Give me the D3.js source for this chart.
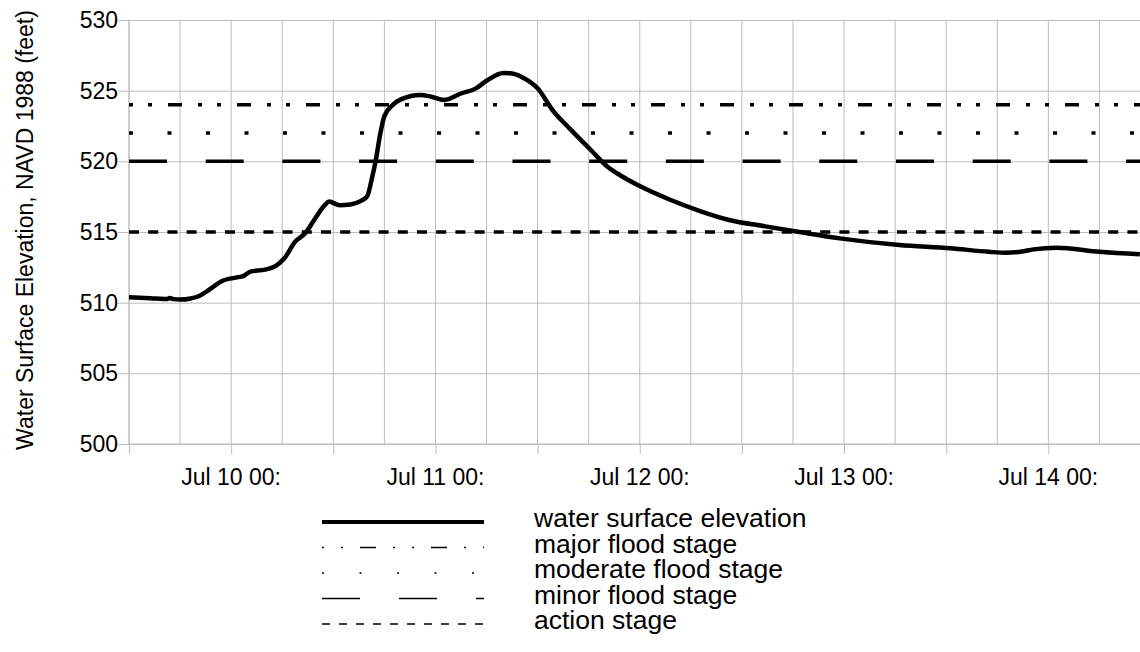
<!DOCTYPE html>
<html>
<head>
<meta charset="utf-8">
<script src="https://cdn.jsdelivr.net/npm/d3@7"></script>
<style>
  body { margin: 0; background: #ffffff; }
  svg { display: block; font-family: "Liberation Sans", Arial, sans-serif; }
</style>
</head>
<body>
<svg id="chart" width="1140" height="652"></svg>
<script>
// water surface elevation readings (ft, NAVD 1988)
const times = [
  '07-09 12:00', '07-09 14:30', '07-09 16:30', '07-09 16:45', '07-09 17:15', '07-09 18:00',
  '07-09 19:15', '07-09 20:15', '07-09 21:30', '07-09 23:00', '07-10 01:00', '07-10 01:30',
  '07-10 02:15', '07-10 04:00', '07-10 05:15', '07-10 06:15', '07-10 07:30', '07-10 08:45',
  '07-10 09:45', '07-10 11:00', '07-10 11:30', '07-10 12:45', '07-10 14:00', '07-10 15:15',
  '07-10 16:00', '07-10 16:30', '07-10 17:00', '07-10 17:30', '07-10 18:00', '07-10 19:00',
  '07-10 20:00', '07-10 22:15', '07-10 23:30', '07-11 01:00', '07-11 03:00', '07-11 04:45',
  '07-11 06:00', '07-11 08:00', '07-11 09:00', '07-11 10:45', '07-11 12:00', '07-11 13:45',
  '07-11 15:45', '07-11 18:15', '07-11 20:15', '07-11 21:45', '07-12 00:00', '07-12 03:30',
  '07-12 07:00', '07-12 10:30', '07-12 14:45', '07-12 18:45', '07-12 23:30', '07-13 06:30',
  '07-13 12:30', '07-13 17:00', '07-13 19:00', '07-13 20:45', '07-13 22:15', '07-14 01:00',
  '07-14 06:00', '07-14 10:45'
];
const elevations = [
  510.38, 510.32, 510.26, 510.33, 510.25, 510.22,
  510.30, 510.47, 510.95, 511.55, 511.82, 511.90,
  512.20, 512.34, 512.60, 513.14, 514.30, 514.95,
  515.85, 516.90, 517.15, 516.90, 516.95, 517.20,
  517.55, 518.70, 520.10, 521.90, 523.20, 524.00,
  524.40, 524.70, 524.57, 524.34, 524.80, 525.16,
  525.70, 526.25, 526.22, 525.76, 525.17, 523.63,
  522.33, 520.80, 519.60, 519.00, 518.25, 517.30,
  516.50, 515.85, 515.40, 515.00, 514.55, 514.08,
  513.85, 513.60, 513.53, 513.60, 513.77, 513.89,
  513.60, 513.42
];

// flood stage thresholds
const stageNames = ['major flood stage', 'moderate flood stage', 'minor flood stage', 'action stage'];
const stageValues = [524, 522, 520, 515];

const yTicks = [500, 505, 510, 515, 520, 525, 530];
const xLabelDates = ['07-10 00:00', '07-11 00:00', '07-12 00:00', '07-13 00:00', '07-14 00:00'];
const xLabels = ['Jul 10 00:', 'Jul 11 00:', 'Jul 12 00:', 'Jul 13 00:', 'Jul 14 00:'];

const parseTime = d3.timeParse('%Y-%m-%d %H:%M');
const toDate = s => parseTime('2013-' + s);

const series = times.map((t, i) => ({ date: toDate(t), value: elevations[i] }));

// line styles for the stage lines (plot, legend)
const stageDash = ['4,15,4,16,14,16', '4,34.5', '38,38.7', '10,9.2'];
const legendDash = ['2,17,2,17,16,17', '2,35.5', '38,39', '8,9'];

const svg = d3.select('#chart');
const gridColor = '#bdbdbd';

const margin = { top: 20, left: 129, bottom: 444 };
const dayWidth = 204.3;

const xScale = d3.scaleTime()
  .domain([toDate('07-09 12:00'), toDate('07-14 12:00')])
  .range([margin.left, margin.left + 5 * dayWidth]);

const yScale = d3.scaleLinear()
  .domain([500, 530])
  .range([margin.bottom, margin.top]);

const [x0, x1] = xScale.range();

// vertical grid every 6 hours
svg.append('g')
  .selectAll('line')
  .data(d3.timeHour.every(6).range(xScale.domain()[0], d3.timeHour.offset(xScale.domain()[1], 1)))
  .enter()
  .append('line')
  .attr('x1', d => xScale(d))
  .attr('x2', d => xScale(d))
  .attr('y1', margin.top)
  .attr('y2', margin.bottom)
  .attr('stroke', gridColor)
  .attr('stroke-width', 1);

// horizontal grid + y ticks
svg.append('g')
  .attr('transform', `translate(${x0},0)`)
  .call(d3.axisLeft(yScale)
    .tickValues(yTicks)
    .tickSize(-(x1 - x0))
    .tickSizeOuter(0)
    .tickPadding(11)
    .tickFormat(d3.format('d')))
  .call(g => g.select('.domain').remove())
  .call(g => g.selectAll('.tick line').attr('stroke', gridColor))
  .call(g => g.selectAll('.tick').append('line')
    .attr('x1', -11).attr('x2', 0)
    .attr('stroke', gridColor))
  .call(g => g.selectAll('.tick text')
    .attr('fill', '#000')
    .style('font-size', '23px')
    .style('font-family', '"Liberation Sans", Arial, sans-serif'));

// x axis ticks every 12 hours + day labels
svg.append('g')
  .attr('transform', `translate(0,${margin.bottom})`)
  .call(d3.axisBottom(xScale)
    .ticks(d3.timeHour.every(12))
    .tickSize(10)
    .tickSizeOuter(0)
    .tickFormat(''))
  .call(g => g.select('.domain').remove())
  .call(g => g.selectAll('.tick line').attr('stroke', gridColor));

svg.append('g')
  .selectAll('text')
  .data(xLabelDates)
  .enter()
  .append('text')
  .attr('x', d => xScale(toDate(d)))
  .attr('y', 485)
  .attr('text-anchor', 'middle')
  .style('font-size', '23px')
  .text((d, i) => xLabels[i]);

// axis frame lines
svg.append('line')
  .attr('x1', x0).attr('x2', x0)
  .attr('y1', margin.top).attr('y2', margin.bottom)
  .attr('stroke', gridColor);
svg.append('line')
  .attr('x1', x0).attr('x2', x1)
  .attr('y1', margin.bottom).attr('y2', margin.bottom)
  .attr('stroke', gridColor);

// stage lines
svg.append('g')
  .selectAll('line')
  .data(stageValues)
  .enter()
  .append('line')
  .attr('x1', x0)
  .attr('x2', x1)
  .attr('y1', d => yScale(d))
  .attr('y2', d => yScale(d))
  .attr('stroke', '#000')
  .attr('stroke-width', 3.5)
  .attr('stroke-dasharray', (d, i) => stageDash[i]);

// water surface elevation line
const line = d3.line()
  .x(d => xScale(d.date))
  .y(d => yScale(d.value))
  .curve(d3.curveMonotoneX);

svg.append('path')
  .datum(series)
  .attr('d', line)
  .attr('fill', 'none')
  .attr('stroke', '#000')
  .attr('stroke-width', 4.5)
  .attr('stroke-linejoin', 'round');

// y axis title
svg.append('text')
  .attr('transform', 'translate(33,230) rotate(-90)')
  .attr('text-anchor', 'middle')
  .style('font-size', '23px')
  .text('Water Surface Elevation, NAVD 1988 (feet)');

// legend
const legendNames = ['water surface elevation'].concat(stageNames);
const legend = svg.append('g');
const rowY = i => 527 + i * 25.5;

legend.selectAll('text')
  .data(legendNames)
  .enter()
  .append('text')
  .attr('x', 534)
  .attr('y', (d, i) => rowY(i))
  .style('font-size', '26.5px')
  .text(d => d);

legend.selectAll('line')
  .data(legendNames)
  .enter()
  .append('line')
  .attr('x1', 322)
  .attr('x2', 484)
  .attr('y1', (d, i) => rowY(i) - 5)
  .attr('y2', (d, i) => rowY(i) - 5)
  .attr('stroke', '#000')
  .attr('stroke-width', (d, i) => i === 0 ? 4 : 1.5)
  .attr('stroke-dasharray', (d, i) => i === 0 ? null : legendDash[i - 1]);
</script>
</body>
</html>
